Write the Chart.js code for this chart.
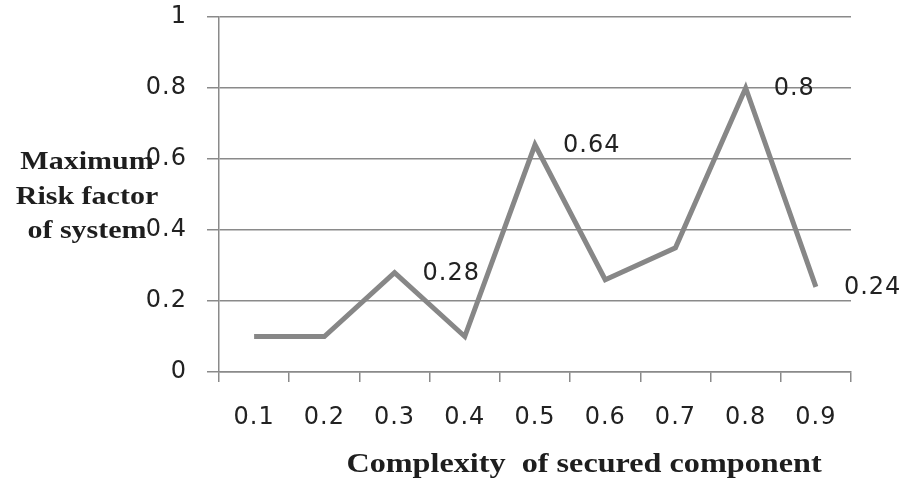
<!DOCTYPE html>
<html>
<head>
<meta charset="utf-8">
<script src="https://cdn.jsdelivr.net/npm/chart.js@4/dist/chart.umd.min.js"></script>
<style>
  html, body { margin: 0; padding: 0; background: #ffffff; }
  canvas { display: block; }
</style>
</head>
<body>
<canvas id="chart" width="909" height="483"></canvas>
<script>
// Complexity of the secured component (x categories)
const complexity = ['0.1', '0.2', '0.3', '0.4', '0.5', '0.6', '0.7', '0.8', '0.9'];
// Maximum risk factor of the system for each complexity level
const maxRisk = [0.1, 0.1, 0.28, 0.1, 0.64, 0.26, 0.35, 0.8, 0.24];
// Points that carry a value label
const labelledPoints = [2, 4, 7, 8];
// Y axis range and step
const yMin = 0, yMax = 1, yStep = 0.2;

const xTitle = 'Complexity  of secured component';
const yTitleLines = ['Maximum', 'Risk factor', 'of system'];

const axisGrey = '#8a8a8a';
const lineGrey = '#878787';
const textColor = '#222222';
const numFont = { family: '"DejaVu Sans", Verdana, sans-serif', size: 24 };
const numSpacing = '1px';

// Widen number glyph spacing while the chart draws
const spacingPlugin = {
  id: 'spacing',
  beforeDraw(chart) { chart.ctx.letterSpacing = numSpacing; },
  afterDraw(chart) { chart.ctx.letterSpacing = '0px'; }
};

// Axis titles and point value labels
const annotatePlugin = {
  id: 'annotate',
  afterDraw(chart) {
    const ctx = chart.ctx;
    ctx.save();
    ctx.letterSpacing = numSpacing;
    ctx.fillStyle = textColor;
    ctx.font = `${numFont.size}px ${numFont.family}`;
    ctx.textAlign = 'left';
    ctx.textBaseline = 'middle';
    const meta = chart.getDatasetMeta(0);
    labelledPoints.forEach(i => {
      const p = meta.data[i];
      ctx.fillText(String(maxRisk[i]), p.x + 28, p.y + 1);
    });
    ctx.restore();

    // serif titles, slightly widened
    ctx.save();
    ctx.fillStyle = '#1e1e1e';
    ctx.textAlign = 'center';
    ctx.textBaseline = 'alphabetic';
    ctx.font = 'bold 28px "Liberation Serif", "Times New Roman", serif';
    ctx.translate(584, 472);
    ctx.scale(1.15, 1);
    ctx.fillText(xTitle, 0, 0);
    ctx.restore();

    ctx.save();
    ctx.fillStyle = '#1e1e1e';
    ctx.textAlign = 'center';
    ctx.textBaseline = 'alphabetic';
    ctx.font = 'bold 25px "Liberation Serif", "Times New Roman", serif';
    const baselines = [169, 204, 238];
    yTitleLines.forEach((t, k) => {
      ctx.save();
      ctx.translate(87, baselines[k]);
      ctx.scale(1.2, 1);
      ctx.fillText(t, 0, 0);
      ctx.restore();
    });
    ctx.restore();
  }
};

new Chart(document.getElementById('chart'), {
  type: 'line',
  data: {
    labels: complexity,
    datasets: [{
      data: maxRisk,
      borderColor: lineGrey,
      borderWidth: 5,
      pointRadius: 0,
      pointHoverRadius: 0,
      tension: 0,
      fill: false
    }]
  },
  options: {
    responsive: false,
    devicePixelRatio: 1,
    animation: false,
    events: [],
    layout: { padding: { top: 17, right: 58, left: 0, bottom: 0 } },
    plugins: { legend: { display: false }, tooltip: { enabled: false } },
    scales: {
      x: {
        type: 'category',
        offset: true,
        grid: {
          offset: true,
          drawOnChartArea: false,
          drawTicks: true,
          tickLength: 10,
          color: axisGrey,
          lineWidth: 1.5
        },
        border: { display: true, color: axisGrey, width: 1.5 },
        ticks: { font: numFont, color: textColor, padding: 21, maxRotation: 0, autoSkip: false },
        afterFit: s => { s.height = 111; }
      },
      y: {
        min: yMin,
        max: yMax,
        ticks: {
          stepSize: yStep,
          font: numFont,
          color: textColor,
          padding: 20,
          callback: v => String(Math.round(v * 10) / 10)
        },
        grid: { color: axisGrey, lineWidth: 1.5, tickLength: 12 },
        border: { display: true, color: axisGrey, width: 1.5 },
        afterFit: s => {
          s.width = 219;
          s.paddingTop = 14;
          s.paddingBottom = 14;
        }
      }
    }
  },
  plugins: [spacingPlugin, annotatePlugin]
});
</script>
</body>
</html>
